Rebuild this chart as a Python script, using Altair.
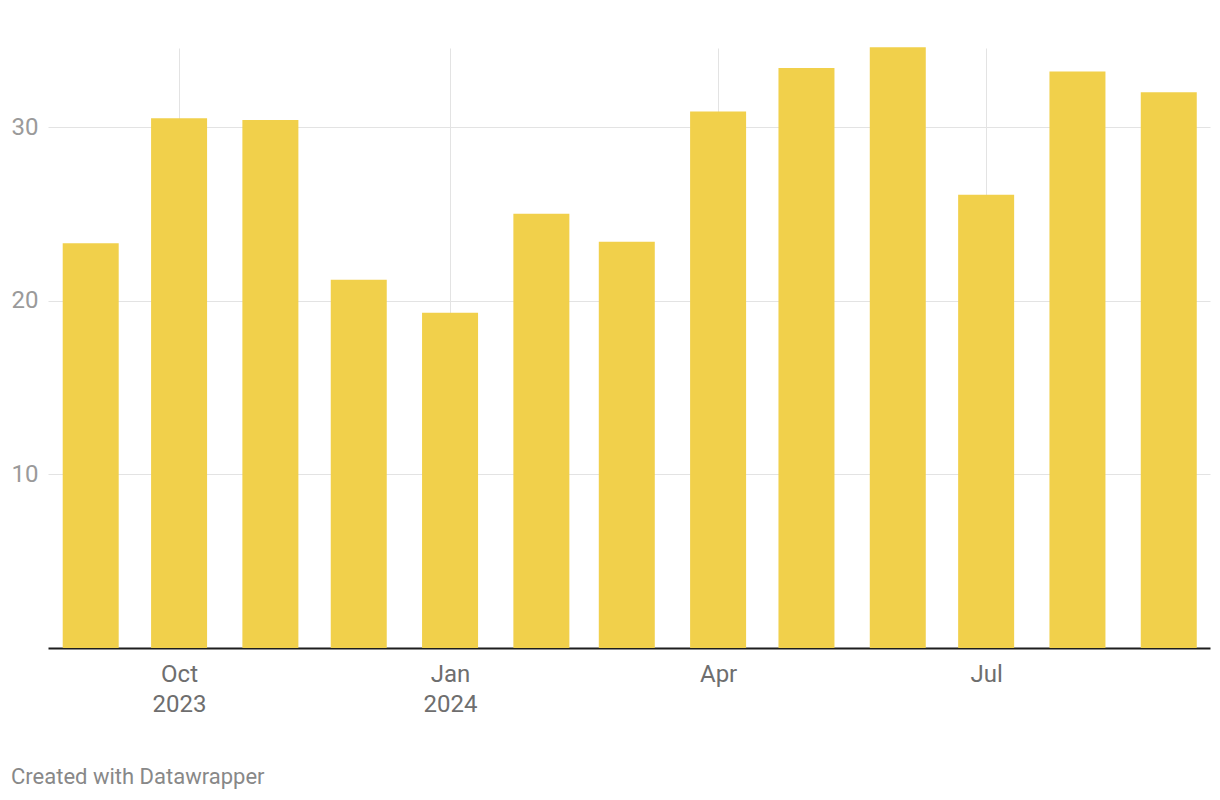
import altair as alt
import pandas as pd

months = ["2023-09-01", "2023-10-01", "2023-11-01", "2023-12-01", "2024-01-01",
          "2024-02-01", "2024-03-01", "2024-04-01", "2024-05-01", "2024-06-01",
          "2024-07-01", "2024-08-01", "2024-09-01"]
values = [23.3, 30.5, 30.4, 21.2, 19.3, 25.0, 23.4, 30.9, 33.4, 34.6, 26.1, 33.2, 32.0]
y_ticks = [10, 20, 30]

df = pd.DataFrame({"month": months, "value": values})

x_ticks = [
    alt.DateTime(year=2023, month=10, date=1, utc=True),
    alt.DateTime(year=2024, month=1, date=1, utc=True),
    alt.DateTime(year=2024, month=4, date=1, utc=True),
    alt.DateTime(year=2024, month=7, date=1, utc=True),
]

label_expr = ("[utcFormat(datum.value, '%b'), "
              "(utcFormat(datum.value, '%m') == '01' || utcFormat(datum.value, '%b %Y') == 'Oct 2023') "
              "? utcFormat(datum.value, '%Y') : '']")

chart = alt.Chart(df).mark_bar(size=56, color="#F1D04B").encode(
    x=alt.X(
        "month:T",
        scale=alt.Scale(
            type="utc",
            padding=0,
            domain=[alt.DateTime(year=2023, month=8, date=17, hours=12, utc=True),
                    alt.DateTime(year=2024, month=9, date=15, utc=True)],
        ),
        axis=alt.Axis(
            values=x_ticks,
            labelExpr=label_expr,
            title=None,
            ticks=False,
            grid=True,
            gridColor="#e3e3e3",
            gridWidth=1,
            domainColor="#1d1d1d",
            domainWidth=2,
            labelColor="#6e6e6e",
            labelFontSize=24,
            labelFont="Roboto",
            labelLineHeight=30,
            labelPadding=33,
            labelBaseline="alphabetic",
        ),
    ),
    y=alt.Y(
        "value:Q",
        scale=alt.Scale(domain=[0, 34.55], nice=False),
        axis=alt.Axis(
            values=y_ticks,
            title=None,
            ticks=False,
            domain=False,
            grid=True,
            gridColor="#e3e3e3",
            gridWidth=1,
            labelColor="#9a9a9a",
            labelFontSize=24,
            labelFont="Roboto",
            labelPadding=10,
        ),
    ),
).properties(
    width=1162,
    height=600,
    autosize=alt.AutoSizeParams(type="none"),
    padding={"left": 48, "top": 48, "right": 10, "bottom": 152},
    title=alt.TitleParams(
        text="Created with Datawrapper",
        orient="bottom",
        anchor="start",
        frame="group",
        dx=-37,
        offset=51,
        font="Roboto",
        fontSize=22,
        fontWeight="normal",
        color="#888888",
    ),
).configure_view(stroke=None)

chart.save("out.html", embed_options={"renderer": "svg", "actions": False})
